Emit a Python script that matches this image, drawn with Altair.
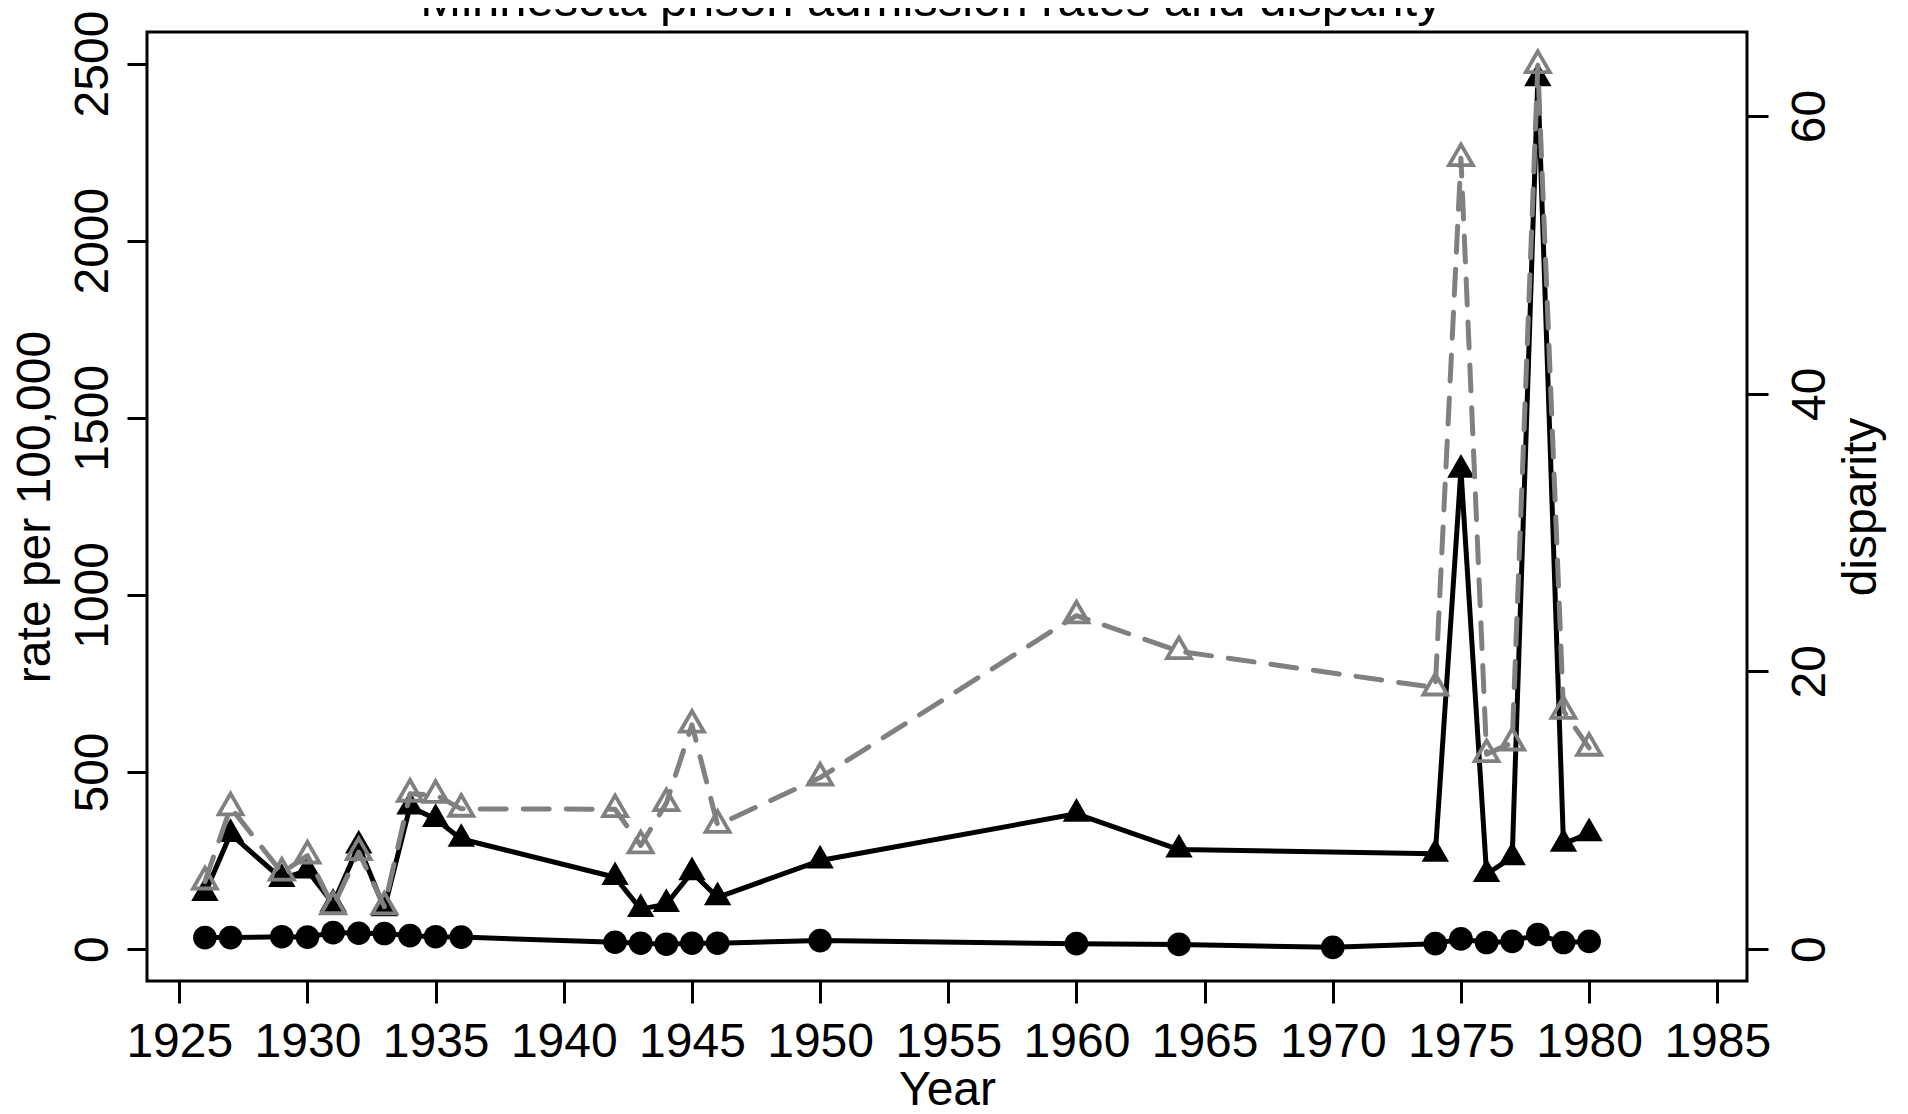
import altair as alt
import pandas as pd

# ---- data ----
years = [1926, 1927, 1929, 1930, 1931, 1932, 1933, 1934, 1935, 1936,
         1942, 1943, 1944, 1945, 1946, 1950, 1960, 1964, 1970,
         1974, 1975, 1976, 1977, 1978, 1979, 1980]
white_rate = [32.5, 32.5, 35, 34, 46.6, 44.8, 44, 38, 35, 34,
              19.4, 16.6, 13.8, 16.6, 16.6, 24, 15.5, 13.3, 5,
              15.5, 28.8, 18.6, 21.7, 41.2, 18.6, 21.7]
black_years = [1926, 1927, 1929, 1930, 1931, 1932, 1933, 1934, 1935, 1936,
               1942, 1943, 1944, 1945, 1946, 1950, 1960, 1964,
               1974, 1975, 1976, 1977, 1978, 1979, 1980]
black_rate = [158, 325, 198, 222, 128, 292, 115, 402, 367, 311,
              203, 113, 127, 217, 146, 250, 382, 281,
              269, 1353, 212, 259, 2458, 297, 327]
disparity = [4.86, 10.2, 5.5, 6.73, 3.06, 6.98, 3.06, 11.18, 11.1, 10.1,
             10.07, 7.46, 10.5, 16.15, 8.94, 12.35, 24.02, 21.45,
             18.83, 56.96, 14.03, 14.87, 63.66, 17.15, 14.49]

x_ticks = [1925, 1930, 1935, 1940, 1945, 1950, 1955, 1960, 1965, 1970, 1975, 1980, 1985]
left_ticks = [0, 500, 1000, 1500, 2000, 2500]
right_ticks = [0, 20, 40, 60]

title_text = "Minnesota prison admission rates and disparity"

white_df = pd.DataFrame({"year": years, "rate": white_rate})
black_df = pd.DataFrame({"year": black_years, "rate": black_rate})
disp_df = pd.DataFrame({"year": black_years, "disparity": disparity})

FONT = "Liberation Sans"
FS = 48
W, H = 1600, 949
TRI = "M0,-1L0.866,0.5L-0.866,0.5Z"
GRAY = "#808080"
LW = 5

axis_common = dict(labelFont=FONT, titleFont=FONT, labelFontSize=FS,
                   titleFontSize=FS, labelColor="black", titleColor="black",
                   tickColor="black", tickWidth=3, domain=False, grid=False,
                   titleFontWeight="normal", labelOverlap=False, labelFlush=False)

x_enc = alt.X(
    "year:Q",
    scale=alt.Scale(domain=[1923.74, 1986.16], nice=False, zero=False),
    axis=alt.Axis(values=x_ticks, format="d", title="Year", tickSize=22,
                  labelPadding=15, labelBaseline="top", titleY=123,
                  titleX=W / 2, titleAlign="center",
                  titleBaseline="alphabetic", **axis_common),
)

y_left = alt.Y(
    "rate:Q",
    scale=alt.Scale(domain=[-90, 2589], nice=False, zero=False),
    axis=alt.Axis(values=left_ticks, format="d", title="rate per 100,000",
                  orient="left", tickSize=20, labelAngle=270,
                  labelAlign="center", labelBaseline="alphabetic",
                  labelPadding=20, titleAngle=270, titleX=-98, titleY=H / 2,
                  titleAlign="center", titleBaseline="alphabetic",
                  **axis_common),
)

y_right = alt.Y(
    "disparity:Q",
    scale=alt.Scale(domain=[-2.30, 66.05], nice=False, zero=False),
    axis=alt.Axis(values=right_ticks, format="d", title="disparity",
                  orient="right", tickSize=21, labelAngle=270,
                  labelAlign="center", labelBaseline="top",
                  labelPadding=18, titleAngle=270, titleX=128, titleY=H / 2,
                  titleAlign="center", titleBaseline="alphabetic",
                  **axis_common),
)

white_line = alt.Chart(white_df).mark_line(
    color="black", strokeWidth=LW, strokeCap="round", strokeJoin="round"
).encode(x=x_enc, y=y_left)
white_pts = alt.Chart(white_df).mark_point(
    shape="circle", filled=True, color="black", size=560, opacity=1
).encode(x=x_enc, y=y_left)

black_line = alt.Chart(black_df).mark_line(
    color="black", strokeWidth=LW, strokeCap="round", strokeJoin="round"
).encode(x=x_enc, y=y_left)
black_pts = alt.Chart(black_df).mark_point(
    shape=TRI, filled=True, color="black", size=1000, opacity=1
).encode(x=x_enc, y=y_left)

title_mark = alt.Chart(pd.DataFrame({"t": [title_text]})).mark_text(
    font=FONT, fontSize=49, color="black", align="center", baseline="alphabetic"
).encode(x=alt.value(784), y=alt.value(-16), text="t:N")

left = alt.layer(white_line, white_pts, black_line, black_pts, title_mark)

disp_line = alt.Chart(disp_df).mark_line(
    color=GRAY, strokeWidth=LW, strokeDash=[26, 17], strokeCap="round",
    strokeJoin="round"
).encode(x=x_enc, y=y_right)
disp_pts = alt.Chart(disp_df).mark_point(
    shape=TRI, filled=False, stroke=GRAY, strokeWidth=3.8, size=760, opacity=1
).encode(x=x_enc, y=y_right)

right = alt.layer(disp_line, disp_pts)

chart = alt.layer(left, right).resolve_scale(y="independent").properties(
    width=W, height=H,
    background="white",
    autosize=alt.AutoSizeParams(type="none"),
    padding={"left": 139, "top": 24, "right": 153, "bottom": 125},
).configure_view(
    stroke="black", strokeWidth=3
).configure_axis(
    labelFont=FONT, titleFont=FONT, labelFontSize=FS, titleFontSize=FS,
    labelColor="black", titleColor="black", tickColor="black", tickWidth=3,
    domain=False, grid=False, titleFontWeight="normal"
)

chart.save("out.html", embed_options={"renderer": "svg", "actions": False})
